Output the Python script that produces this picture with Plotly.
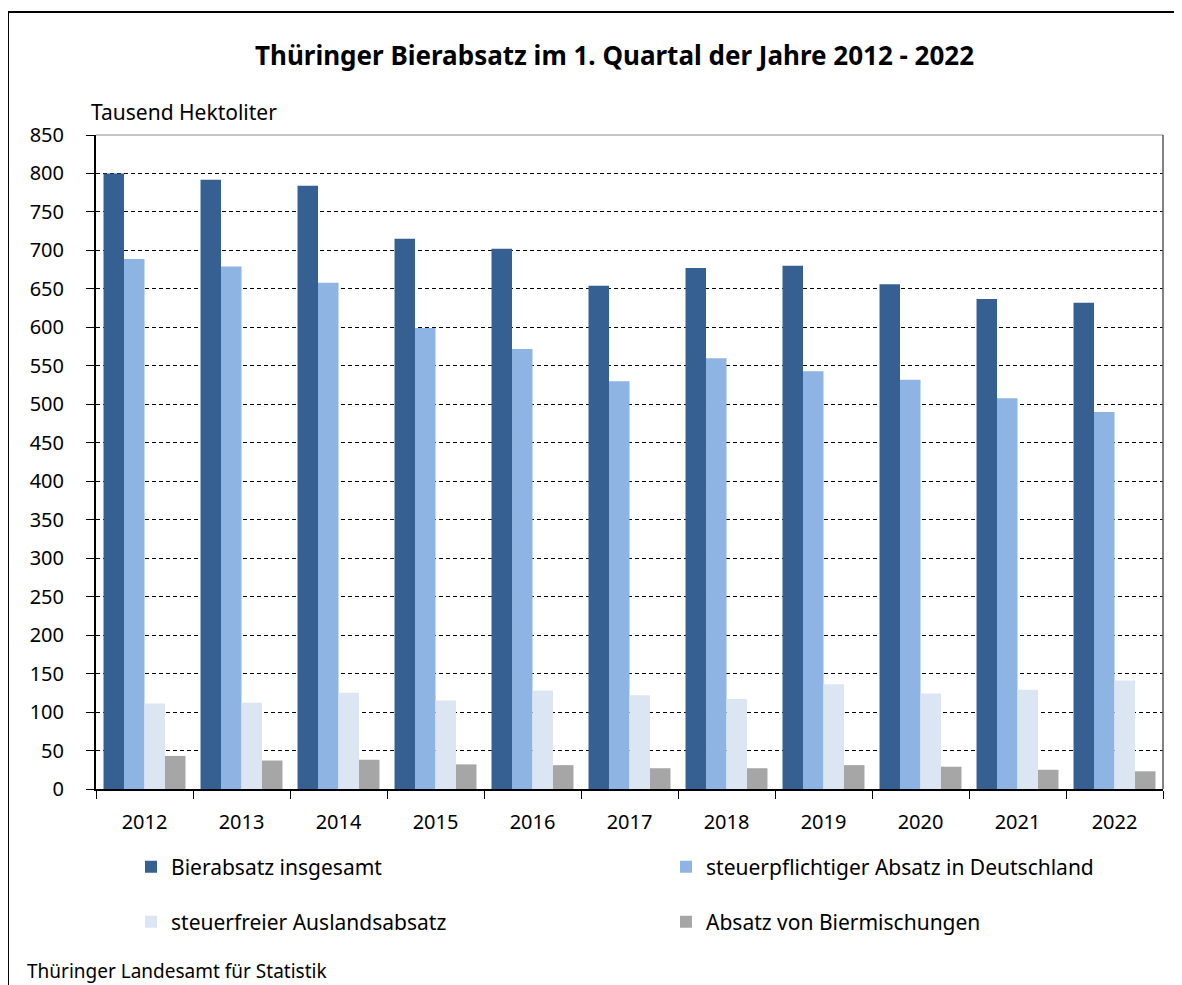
import plotly.graph_objects as go

years = ["2012", "2013", "2014", "2015", "2016", "2017", "2018", "2019", "2020", "2021", "2022"]
insgesamt = [800, 792, 784, 715, 702, 654, 677, 680, 656, 637, 632]
steuerpflichtig = [689, 679, 658, 599, 572, 530, 560, 543, 532, 508, 490]
steuerfrei = [111, 112, 125, 115, 128, 122, 117, 136, 124, 129, 141]
biermischungen = [43, 37, 38, 32, 31, 27, 27, 31, 29, 25, 23]

names = ["Bierabsatz insgesamt", "steuerpflichtiger Absatz in Deutschland",
         "steuerfreier Auslandsabsatz", "Absatz von Biermischungen"]
colors = ["#366092", "#8EB4E3", "#DCE6F2", "#A6A6A6"]
series = [insgesamt, steuerpflichtig, steuerfrei, biermischungen]
legend_ids = ["legend", "legend2", "legend3", "legend4"]

FONT = "Noto Sans"
OFF = 8  # page body margin
SW, SH = 1182, 985
W, H = SW - OFF, SH - OFF
# plot area in screenshot coordinates
PL, PR, PT, PB = 96, 1163, 135, 789
L, R, T, B = PL - OFF, SW - PR, PT - OFF, SH - PB
PW, PH = PR - PL, PB - PT


def px(x):
    return (x - PL) / PW


def py(y):
    return (PB - y) / PH


fig = go.Figure()
for n, c, s, lg in zip(names, colors, series, legend_ids):
    fig.add_trace(go.Bar(x=years, y=s, name=n, marker=dict(color=c, line=dict(width=0)),
                         legend=lg, showlegend=True))

legend_common = dict(orientation="h", font=dict(family=FONT, size=21, color="#000"),
                     xanchor="left", yanchor="middle", visible=True,
                     bgcolor="rgba(0,0,0,0)", itemclick=False, itemdoubleclick=False)

# legend item positions (screenshot coords of item start, row centre)
leg_pos = [(131, 867), (666, 867), (131, 922), (666, 922)]
legend_layout = {}
for lid, (lx, ly) in zip(legend_ids, leg_pos):
    legend_layout[lid] = dict(x=px(lx), y=py(ly), **legend_common)

fig.update_layout(
    width=W, height=H,
    margin=dict(l=L, r=R, t=T, b=B, pad=0),
    paper_bgcolor="white", plot_bgcolor="white",
    showlegend=True,
    font=dict(family=FONT, size=20, color="#000"),
    barmode="group", bargap=0.155, bargroupgap=0,
    xaxis=dict(showline=True, linecolor="#000", linewidth=2, ticks="outside",
               tickson="boundaries", ticklen=8, tickcolor="#000", tickwidth=1,
               tickfont=dict(family=FONT, size=20), showgrid=False,
               ticklabelstandoff=14),
    yaxis=dict(range=[0, 850], dtick=50, tick0=0, showline=True, linecolor="#000",
               linewidth=2, ticks="outside", ticklen=8, tickcolor="#000", tickwidth=1,
               tickfont=dict(family=FONT, size=20), ticklabelstandoff=18,
               showgrid=True, gridcolor="#000", gridwidth=1, griddash="4px,3px",
               zeroline=False),
    shapes=[
        dict(type="line", xref="paper", yref="paper", x0=0, x1=1, y0=1, y1=1,
             line=dict(color="#8c8c8c", width=1), layer="below"),
        dict(type="line", xref="paper", yref="paper", x0=1, x1=1, y0=0, y1=1,
             line=dict(color="#595959", width=1.5), layer="above"),
        dict(type="rect", xref="paper", yref="paper", x0=px(8), x1=px(1200),
             y0=py(1000), y1=py(12), line=dict(color="#000", width=2),
             fillcolor="rgba(0,0,0,0)", layer="above"),
    ],
    annotations=[
        dict(text="<b>Thüringer Bierabsatz im 1. Quartal der Jahre 2012 - 2022</b>",
             xref="paper", yref="paper", x=px(614), y=py(55), xanchor="center",
             yanchor="middle", showarrow=False, font=dict(family=FONT, size=26, color="#000")),
        dict(text="Tausend Hektoliter", xref="paper", yref="paper", x=px(89), y=py(112),
             xanchor="left", yanchor="middle", showarrow=False,
             font=dict(family=FONT, size=21, color="#000")),
        dict(text="Thüringer Landesamt für Statistik", xref="paper", yref="paper",
             x=px(25), y=py(971), xanchor="left", yanchor="middle", showarrow=False,
             font=dict(family=FONT, size=19, color="#000")),
    ],
    **legend_layout,
)

fig.write_html("out.html")
